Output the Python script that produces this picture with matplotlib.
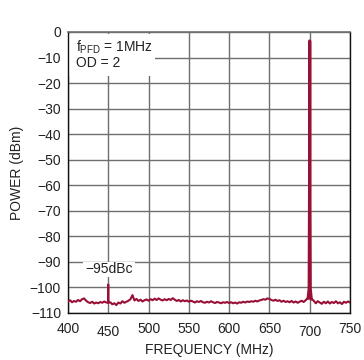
import numpy as np
import matplotlib
matplotlib.use("Agg")
import matplotlib.pyplot as plt
from matplotlib.patches import Rectangle
from matplotlib.transforms import ScaledTranslation

plt.rcParams['font.family'] = ['Liberation Sans', 'DejaVu Sans']
plt.rcParams['font.size'] = 10

# spectrum data
# -------------
freq_start, freq_step = 400.0, 2.5  # MHz
noise_dbm = [
    -105.5, -105.0, -105.8, -105.3, -105.6, -104.9, -105.4, -104.6, -104.3, -105.2,
    -105.8, -106.1, -105.6, -106.3, -105.9, -106.2, -105.7, -106.0, -105.5, -105.9,
    -105.9, -105.8, -106.6, -106.2, -106.9, -105.9, -106.3, -105.4, -106.0, -105.6,
    -105.2, -104.6, -103.0, -105.1, -104.5, -105.3, -104.8, -105.5, -105.0, -104.7,
    -105.2, -104.6, -105.0, -104.4, -104.9, -104.3, -104.8, -105.1, -104.6, -105.0,
    -104.5, -104.9, -104.2, -104.8, -105.3, -104.9, -105.5, -105.0, -105.4, -105.1,
    -105.6, -105.2, -105.5, -105.9, -105.4, -105.7, -105.3, -105.8, -106.0, -105.6,
    -105.9, -105.4, -105.8, -106.1, -105.7, -105.9, -106.2, -105.8, -106.0, -105.7,
    -106.1, -105.8, -106.2, -105.9, -106.3, -105.8, -106.0, -105.6, -105.9, -105.5,
    -105.7, -105.4, -105.6, -105.2, -105.5, -105.1, -104.9, -104.6, -104.8, -104.3,
    -104.5, -104.9, -105.2, -104.8, -105.3, -105.0, -105.6, -105.2, -105.7, -105.4,
    -105.8, -105.3, -105.9, -105.5, -106.0, -105.6, -105.2, -105.7, -105.0, -104.2,
    -104.0, -104.5, -105.2, -106.2, -105.4, -105.9, -106.4, -105.6, -106.2, -105.5,
    -106.3, -105.7, -106.1, -105.4, -106.2, -105.8, -106.5, -105.6, -106.0, -105.5,
    -105.9,
]
spur_freq = [449.6, 450.0, 450.4]
spur_dbm = [-105.9, -98.8, -105.9]
carrier_freq = [698.0, 699.3, 699.8, 700.0, 700.2, 700.7, 702.0]
carrier_dbm = [-104.2, -100.5, -60.0, -3.5, -60.0, -100.5, -104.5]

x_ticks = [400, 450, 500, 550, 600, 650, 700, 750]
y_ticks = [0, -10, -20, -30, -40, -50, -60, -70, -80, -90, -100, -110]

trace_color = '#990f35'
grid_color = '#6e6e6e'
text_color = '#222222'

freq = freq_start + freq_step * np.arange(len(noise_dbm))

fig = plt.figure(figsize=(3.64, 3.6), dpi=100)
ax = fig.add_axes([0.1868, 0.1306, 0.7747, 0.7806])

ax.set_xlim(400, 750)
ax.set_ylim(-110, 0)
ax.set_xticks(x_ticks)
ax.set_yticks(y_ticks)
ax.set_yticklabels([str(v).replace('-', '\u2212') for v in y_ticks])
ax.tick_params(length=0, pad=5, labelsize=10, colors=text_color)
ax.tick_params(axis='x', pad=6.5)
ax.grid(True, color=grid_color, lw=1.0, zorder=0)
ax.set_axisbelow(True)

for s in ['left', 'bottom', 'right']:
    ax.spines[s].set_color('#111111')
    ax.spines[s].set_linewidth(1.0)
ax.spines['top'].set_color(grid_color)
ax.spines['top'].set_linewidth(1.2)

# white boxes that hide the grid under the labels
ax.add_patch(Rectangle((0.0, 0.843), 0.31, 0.15, transform=ax.transAxes,
                       facecolor='white', edgecolor='none', zorder=1))
ax.add_patch(Rectangle((0.053, 0.128), 0.185, 0.053, transform=ax.transAxes,
                       facecolor='white', edgecolor='none', zorder=1))

# traces
ax.plot(freq, noise_dbm, color=trace_color, lw=1.5, zorder=3)
ax.plot(spur_freq, spur_dbm, color=trace_color, lw=1.4, zorder=3)
ax.plot(carrier_freq, carrier_dbm, color=trace_color, lw=2.2, zorder=4)

ax.text(0.03, 0.975, 'f$_{\\mathregular{PFD}}$ = 1MHz\nOD = 2', transform=ax.transAxes,
        ha='left', va='top', fontsize=10, color=text_color, linespacing=0.95, zorder=2)
ax.text(450.9, -92.6, '\u221295dBc', ha='center', va='center', fontsize=10,
        color=text_color, zorder=2)

ax.set_xlabel('FREQUENCY (MHz)', fontsize=10, color=text_color, labelpad=3)
ax.set_ylabel('POWER (dBm)', fontsize=10, color=text_color, labelpad=4)

# 450 and 700 labels sit a touch lower in the original
for lab in ax.get_xticklabels():
    if lab.get_text() in ('450', '700'):
        lab.set_transform(lab.get_transform() + ScaledTranslation(0, -2 / 72, fig.dpi_scale_trans))

fig.savefig('out.png', dpi=100)
